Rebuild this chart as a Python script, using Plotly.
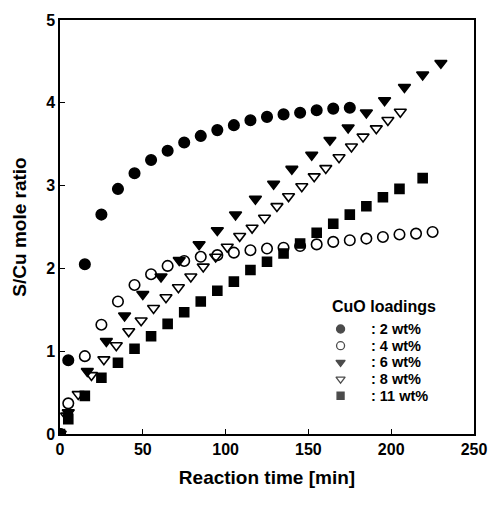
import plotly.graph_objects as go

# ---- data ----
x_2 = [0, 5, 15, 25, 35, 45, 55, 65, 75, 85, 95, 105, 115, 125, 135, 145, 155, 165, 175]
y_2 = [0, 0.89, 2.05, 2.65, 2.96, 3.15, 3.31, 3.42, 3.52, 3.60, 3.67, 3.73, 3.79, 3.83, 3.86, 3.88, 3.91, 3.93, 3.94]

x_4 = [0, 5, 15, 25, 35, 45, 55, 65, 75, 85, 95, 105, 115, 125, 135, 145, 155, 165, 175, 185, 195, 205, 215, 225]
y_4 = [0, 0.37, 0.94, 1.32, 1.60, 1.80, 1.93, 2.03, 2.09, 2.14, 2.16, 2.19, 2.22, 2.24, 2.25, 2.27, 2.29, 2.32, 2.34, 2.36, 2.38, 2.41, 2.42, 2.44]

x_6 = [0, 5, 16.5, 28, 39, 50, 61, 72, 84, 95, 106, 118, 129, 140, 152, 163, 174, 185, 196, 208, 219, 230]
y_6 = [0, 0.26, 0.76, 1.12, 1.43, 1.69, 1.90, 2.10, 2.29, 2.46, 2.65, 2.84, 3.02, 3.20, 3.37, 3.55, 3.70, 3.88, 4.03, 4.19, 4.34, 4.48]

x_8 = [0, 4, 11, 19, 26.5, 34, 41.5, 49, 56.5, 64, 71.5, 79, 86.5, 94, 101, 108.5, 116, 123.5, 131, 138, 146, 153.5, 160.5, 168.5, 176, 183, 191, 198, 205.5]
y_8 = [0, 0.22, 0.48, 0.71, 0.90, 1.07, 1.24, 1.37, 1.52, 1.65, 1.77, 1.90, 2.02, 2.14, 2.26, 2.39, 2.49, 2.61, 2.75, 2.87, 2.99, 3.11, 3.21, 3.34, 3.47, 3.59, 3.69, 3.79, 3.89]

x_11 = [0, 5, 15, 25, 35, 45, 55, 65, 75, 85, 95, 105, 115, 125, 135, 145, 155, 165, 175, 185, 195, 205, 219]
y_11 = [0, 0.18, 0.46, 0.68, 0.86, 1.03, 1.18, 1.33, 1.47, 1.60, 1.73, 1.84, 1.98, 2.08, 2.18, 2.30, 2.43, 2.54, 2.65, 2.75, 2.86, 2.96, 3.09]

series_names = [": 2 wt%", ": 4 wt%", ": 6 wt%", ": 8 wt%", ": 11 wt%"]
legend_title = "CuO loadings"
symbols = ["circle", "circle-open", "triangle-down", "triangle-down-open", "square"]

x_ticks = [0, 50, 100, 150, 200, 250]
y_ticks = [0, 1, 2, 3, 4, 5]

FONT = "Liberation Sans, Arial, sans-serif"

fig = go.Figure()
data = [(x_2, y_2), (x_4, y_4), (x_6, y_6), (x_8, y_8), (x_11, y_11)]
for (xs, ys), sym, name in zip(data, symbols, series_names):
    fig.add_trace(go.Scatter(
        x=xs, y=ys, mode="markers", showlegend=False, name=name,
        marker=dict(symbol=sym, size=9 if sym == "square" else 10.5, color="black",
                    line=dict(color="black", width=1.6)),
    ))

# ---- custom legend key (hidden overlay axes spanning the plot area) ----
# plot area spans 422 px vertically; rows 17 px apart centred on the middle row
row_px = 17.0 / 422.0
mid = 0.173
row_y = [mid + 2 * row_px, mid + row_px, mid, mid - row_px, mid - 2 * row_px]
key_x = 0.6777
text_x = 0.749
fig.add_trace(go.Scatter(
    x=[key_x] * len(symbols), y=row_y, mode="markers", showlegend=False,
    xaxis="x2", yaxis="y2", hoverinfo="skip",
    marker=dict(symbol=symbols, size=[8, 8, 8, 8, 7], color="black",
                line=dict(color="black", width=1.3)),
))
annotations = [
    dict(x=0.6517, y=0.308, xref="paper", yref="paper", xanchor="left",
         yanchor="middle", text=f"<b>{legend_title}</b>", showarrow=False,
         font=dict(family=FONT, size=16, color="black")),
]
for n, yy in zip(series_names, row_y):
    annotations.append(dict(x=text_x, y=yy, xref="paper", yref="paper", xanchor="left",
                            yanchor="middle", text=f"<b>{n}</b>", showarrow=False,
                            borderpad=0,
                            font=dict(family=FONT, size=14.5, color="black")))

axis_common = dict(
    showgrid=False, zeroline=False, showline=True, linecolor="black",
    linewidth=1.5, mirror=True, ticks="inside", ticklen=5, tickwidth=1.2,
    tickcolor="black",
    tickfont=dict(family=FONT, size=16, color="black", weight="bold"),
)

fig.update_layout(
    width=499, height=505,
    margin=dict(l=60, r=17, t=12, b=71),
    paper_bgcolor="white", plot_bgcolor="white",
    showlegend=False,
    xaxis=dict(range=[0, 250], tickvals=x_ticks,
               title=dict(text="Reaction time [min]", standoff=14,
                          font=dict(family=FONT, size=19, color="black", weight="bold")),
               **axis_common),
    yaxis=dict(range=[0, 5], tickvals=y_ticks,
               title=dict(text="S/Cu mole ratio", standoff=14,
                          font=dict(family=FONT, size=19, color="black", weight="bold")),
               **axis_common),
    xaxis2=dict(range=[0, 1], overlaying="x", visible=False, fixedrange=True),
    yaxis2=dict(range=[0, 1], overlaying="y", visible=False, fixedrange=True),
    annotations=annotations,
)

fig.write_html("out.html")
